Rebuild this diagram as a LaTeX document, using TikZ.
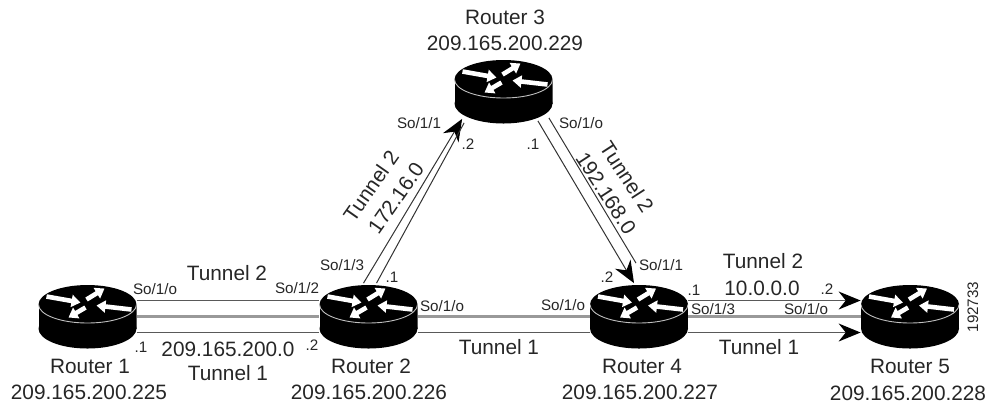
\documentclass[tikz,border=0pt]{standalone}
\usepackage{fontspec}
\setmainfont{Liberation Sans}
\usetikzlibrary{arrows.meta, calc}
\tikzset{
    router/.style={minimum width=49pt, minimum height=32pt, inner sep=0pt,
        path picture={
            \begin{scope}[shift={(path picture bounding box.center)}]
                \fill[black] (-49,-12) rectangle (49,12);
                \fill[black] (0,12) ellipse[x radius=49, y radius=20];
                \fill[black] (0,-12) ellipse[x radius=49, y radius=19.5];
                \draw[white!75!black, line width=.45pt] (-49,-12) arc[start angle=180, end angle=0, x radius=49, y radius=18.5];
                \foreach \ax/\ay/\bx/\by in {-41/-20/-7/-14, -1/-17/17/-28, 44/-7/9/-11, -2/-9/-19/1}
                    \draw[white, line width=2.3pt, -{Triangle[length=4.5pt,width=6pt]}] (\ax,\ay) -- (\bx,\by);
            \end{scope}
        }},
    lbl/.style={font=\fontsize{10.4}{12}\selectfont, text=black!85, inner sep=0pt},
    small/.style={font=\fontsize{7.6}{9}\selectfont, text=black!85, inner sep=0pt},
    tunnel/.style={draw=black!65, line width=.75pt},
    mid/.style={draw=black!40, line width=1.2pt},
    diag/.style={draw=black!80, line width=.5pt},
    tip/.style={-{Stealth[length=11pt,width=9pt,color=black]}}
}
\begin{document}
\begin{tikzpicture}[x=.5pt, y=-.5pt]
        \useasboundingbox (0,0) rectangle (989,404);

        % Routers
        \node[router] (r1) at (87.5,316.5) {};
        \node[router] (r2) at (368.5,316.5) {};
        \node[router] (r3) at (503.5,91.5) {};
        \node[router] (r4) at (639,316.5) {};
        \node[router] (r5) at (910,316.5) {};

        % Tunnels 1 to 2
        \draw[tunnel] ($(r1.east)+(0,-16)$) -- ($(r2.west)+(0,-16)$);
        \draw[mid] (r1.east) -- (r2.west);
        \draw[tunnel] ($(r1.east)+(0,16)$) -- ($(r2.west)+(0,16)$);

        % Tunnels 2 to 3
        \draw[diag, tip] ($(r2.north)+(-5,-1)$) -- ($(r3.south west)+(8,-5)$);
        \draw[diag] ($(r2.north)+(8,-1)$) -- ($(r3.south west)+(10,-1)$);

        % Tunnels 3 to 4
        \draw[diag, tip] ($(r3.south east)+(-15,-3)$) -- ($(r4.north)+(-5,-1)$);
        \draw[diag] ($(r3.south east)+(-4,-6)$) -- ($(r4.north)+(-3,-21)$);

        % Tunnels 2 to 4
        \draw[mid] (r2.east) -- (r4.west);
        \draw[tunnel] ($(r2.east)+(0,16)$) -- ($(r4.west)+(0,16)$);

        % Tunnels 4 to 5
        \draw[tunnel, tip] ($(r4.east)+(0,-16)$) -- ($(r5.west)+(0,-16)$);
        \draw[mid] (r4.east) -- (r5.west);
        \draw[tunnel, tip] ($(r4.east)+(0,16)$) -- ($(r5.west)+(0,16)$);

        % Router names
        \node[lbl] (name1) at (90,366) {Router 1};
        \node[lbl] (addr1) at (89,392) {209.165.200.225};
        \node[lbl] (name2) at (371,366) {Router 2};
        \node[lbl] (addr2) at (369,392) {209.165.200.226};
        \node[lbl] (name3) at (505,17) {Router 3};
        \node[lbl] (addr3) at (505,43) {209.165.200.229};
        \node[lbl] (name4) at (642,366) {Router 4};
        \node[lbl] (addr4) at (640,392) {209.165.200.227};
        \node[lbl] (name5) at (910,366) {Router 5};
        \node[lbl] (addr5) at (908,393) {209.165.200.228};

        % Tunnel labels
        \node[lbl] (t2a) at (227,273) {Tunnel 2};
        \node[lbl] (neta) at (228,349) {209.165.200.0};
        \node[lbl] (t1a) at (228,373) {Tunnel 1};
        \node[lbl] (t1b) at (499,347) {Tunnel 1};
        \node[lbl, rotate=55] (t2b) at (371,186) {Tunnel 2};
        \node[lbl, rotate=55] (netb) at (396,198) {172.16.0};
        \node[lbl, rotate=-57] (t2c) at (627,177) {Tunnel 2};
        \node[lbl, rotate=-57] (netc) at (606,193) {192.168.0};
        \node[lbl] (t2d) at (763,261) {Tunnel 2};
        \node[lbl] (netd) at (762,288) {10.0.0.0};
        \node[lbl] (t1d) at (759,347) {Tunnel 1};

        % Interfaces
        \node[small] (s1) at (155,289) {So/1/o};
        \node[small] (s2) at (297,288) {So/1/2};
        \node[small] (s3) at (342,265) {So/1/3};
        \node[small] (s4) at (442,306) {So/1/o};
        \node[small] (s5) at (419,123) {So/1/1};
        \node[small] (s6) at (581,123) {So/1/o};
        \node[small] (s7) at (563,305) {So/1/o};
        \node[small] (s8) at (661,265) {So/1/1};
        \node[small] (s9) at (713,309) {So/1/3};
        \node[small] (s10) at (806,309) {So/1/o};

        % Host numbers
        \node[small] (h1) at (141,347) {.1};
        \node[small] (h2) at (312,345) {.2};
        \node[small] (h3) at (392,277) {.1};
        \node[small] (h4) at (468,144) {.2};
        \node[small] (h5) at (533,144) {.1};
        \node[small] (h6) at (607,277) {.2};
        \node[small] (h7) at (694,290) {.1};
        \node[small] (h8) at (827,289) {.2};

        \node[small, rotate=90] (fig) at (973,307) {192733};
    \end{tikzpicture}
\end{document}
